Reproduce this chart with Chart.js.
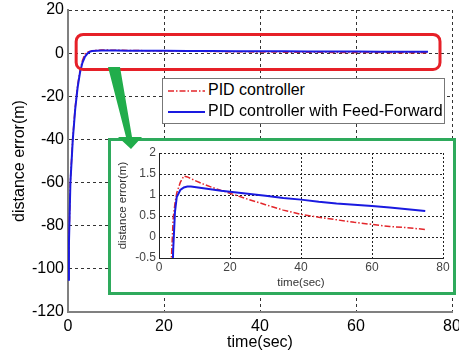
<!DOCTYPE html>
<html>

<head>
    <meta charset="utf-8" />
    <title>Distance error: PID vs PID with Feed-Forward</title>
    <script src="https://cdn.jsdelivr.net/npm/chart.js@4.4.0/dist/chart.umd.min.js"></script>
    <style>
        body { margin: 0; background: #fff; font-family: "Liberation Sans", Arial, sans-serif; }
        #wrap { position: relative; width: 459px; height: 355px; overflow: hidden; }
        #mainChart { position: absolute; left: 0; top: 0; }
        #legend {
            position: absolute; left: 162px; top: 78px; width: 283px; height: 46px;
            box-sizing: border-box; border: 1px solid #777; background: #fff;
            font-size: 16px; color: #000;
        }
        #legend .row { position: absolute; left: 5px; height: 20px; line-height: 20px; white-space: nowrap; }
        #legend svg { vertical-align: middle; margin-right: 3px; }
        #inset {
            position: absolute; left: 108px; top: 138px; width: 348px; height: 157px;
            box-sizing: border-box; border: 3px solid #2eaa5c; background: #fff;
        }
        #arrow { position: absolute; left: 0; top: 0; }
    </style>
</head>

<body>
    <div id="wrap">
        <canvas id="mainChart" width="459" height="355"></canvas>
        <!-- legend box -->
        <div id="legend">
            <div class="row" style="top:1px">
                <svg width="37" height="6"><line x1="0" y1="3" x2="37" y2="3" stroke="#e3262b" stroke-width="1.5" stroke-dasharray="6,2,1.5,2" /></svg><span>PID controller</span>
            </div>
            <div class="row" style="top:22px">
                <svg width="37" height="6"><line x1="0" y1="3" x2="37" y2="3" stroke="#1a1ae0" stroke-width="2" /></svg><span>PID controller with Feed-Forward</span>
            </div>
        </div>
        <!-- zoomed view -->
        <div id="inset"><canvas id="insetChart" width="342" height="151"></canvas></div>
        <!-- green arrow pointing from the red box to the zoomed view -->
        <svg id="arrow" width="459" height="355">
            <polygon points="108,67 120,67 132,137 142,137 131,149 118,137 126,137" fill="#21ad4b" />
        </svg>
    </div>

    <script type="text/javascript">

        // time (sec) and distance error (m) for both controllers
        const time = [0, 0.2, 0.5, 1, 1.5, 2, 2.5, 3, 3.5, 4, 4.5, 5, 6, 7, 8, 9, 10, 12.5, 15, 17.5,
            20, 25, 30, 35, 40, 45, 50, 55, 60, 65, 70, 75];
        const pidError = [-105, -87, -59, -39, -25, -15, -8, -3.5, -0.5, 0.45, 0.8, 1.05, 1.3, 1.45, 1.43, 1.39, 1.35, 1.26, 1.18, 1.11,
            1.04, 0.9, 0.77, 0.64, 0.54, 0.47, 0.41, 0.35, 0.3, 0.25, 0.22, 0.18];
        const ffError = [-105, -88, -60, -40, -26, -16, -9, -4.5, -1.8, -0.3, 0.6, 0.95, 1.12, 1.18, 1.2, 1.2, 1.19, 1.16, 1.13, 1.1,
            1.08, 1.03, 0.98, 0.93, 0.89, 0.84, 0.8, 0.77, 0.74, 0.7, 0.66, 0.62];

        // axis ranges / tick steps
        const mainX = { min: 0, max: 80, step: 20 };
        const mainY = { min: -120, max: 20, step: 20 };
        const insetY = { min: -0.5, max: 2, step: 0.5 };

        // region highlighted by the red box (data units)
        const zoomBox = { x0: 1.7, x1: 77.5, y0: -7.6, y1: 8.7 };

        const toPoints = vals => vals.map((v, i) => ({ x: time[i], y: v }));

        const makeDatasets = (blueWidth, redWidth) => [
            {
                label: 'PID controller with Feed-Forward',
                data: toPoints(ffError),
                borderColor: '#1a1ae0',
                borderWidth: blueWidth,
                pointRadius: 0,
                tension: 0
            },
            {
                label: 'PID controller',
                data: toPoints(pidError),
                borderColor: '#e3262b',
                borderWidth: redWidth,
                borderDash: [6, 2, 1.5, 2],
                pointRadius: 0,
                tension: 0
            }
        ];

        // draws the rounded red rectangle around the steady-state part
        const zoomBoxPlugin = {
            id: 'zoomBox',
            afterDatasetsDraw(chart) {
                const { ctx, scales: { x, y } } = chart;
                const l = x.getPixelForValue(zoomBox.x0), r = x.getPixelForValue(zoomBox.x1);
                const t = y.getPixelForValue(zoomBox.y1), b = y.getPixelForValue(zoomBox.y0);
                ctx.save();
                ctx.strokeStyle = '#e62028';
                ctx.lineWidth = 3;
                ctx.beginPath();
                ctx.roundRect(l, t, r - l, b - t, 7);
                ctx.stroke();
                ctx.restore();
            }
        };

        new Chart(document.getElementById('mainChart'), {
            type: 'line',
            data: { datasets: makeDatasets(2, 1.5) },
            plugins: [zoomBoxPlugin],
            options: {
                responsive: false,
                animation: false,
                events: [],
                layout: { padding: { top: 10, right: 7 } },
                plugins: { legend: { display: false }, tooltip: { enabled: false } },
                scales: {
                    x: {
                        type: 'linear', min: mainX.min, max: mainX.max,
                        ticks: { stepSize: mainX.step, color: '#000', font: { size: 16 }, padding: 5, maxRotation: 0 },
                        grid: { color: '#333', lineWidth: 1, drawTicks: false },
                        border: { dash: [3, 3], color: '#808080', width: 2 },
                        title: { display: true, text: 'time(sec)', color: '#000', font: { size: 16 }, padding: { top: 0, bottom: 3 } },
                        afterFit: s => { s.height = 43; s.paddingLeft = 0; s.paddingRight = 0; }
                    },
                    y: {
                        type: 'linear', min: mainY.min, max: mainY.max,
                        ticks: { stepSize: mainY.step, color: '#000', font: { size: 16 }, padding: 4 },
                        grid: { color: '#333', lineWidth: 1, drawTicks: false },
                        border: { dash: [3, 3], color: '#808080', width: 2 },
                        title: { display: true, text: 'distance error(m)', color: '#000', font: { size: 16 }, padding: { top: 10, bottom: 0 } },
                        afterFit: s => { s.width = 68; s.paddingTop = 0; s.paddingBottom = 0; }
                    }
                }
            }
        });

        new Chart(document.getElementById('insetChart'), {
            type: 'line',
            data: { datasets: makeDatasets(2, 1.5) },
            options: {
                responsive: false,
                animation: false,
                events: [],
                layout: { padding: { top: 12, right: 10 } },
                plugins: { legend: { display: false }, tooltip: { enabled: false } },
                scales: {
                    x: {
                        type: 'linear', min: mainX.min, max: mainX.max,
                        ticks: { stepSize: mainX.step, color: '#444', font: { size: 12 }, padding: 2, maxRotation: 0 },
                        grid: { color: '#222', lineWidth: 1, drawTicks: false },
                        border: { dash: [2, 2], color: '#222', width: 1 },
                        title: { display: true, text: 'time(sec)', color: '#333', font: { size: 11.5 }, padding: { top: 0, bottom: 2 } },
                        afterFit: s => { s.height = 34; s.paddingLeft = 0; s.paddingRight = 0; }
                    },
                    y: {
                        type: 'linear', min: insetY.min, max: insetY.max,
                        ticks: { stepSize: insetY.step, color: '#444', font: { size: 12 }, padding: 3, callback: v => String(v) },
                        grid: { color: '#222', lineWidth: 1, drawTicks: false },
                        border: { dash: [2, 2], color: '#222', width: 1 },
                        title: { display: true, text: 'distance error(m)', color: '#333', font: { size: 11.5 }, padding: { top: 5, bottom: 0 } },
                        afterFit: s => { s.width = 48; s.paddingTop = 0; s.paddingBottom = 0; }
                    }
                }
            }
        });

    </script>

</body>

</html>
